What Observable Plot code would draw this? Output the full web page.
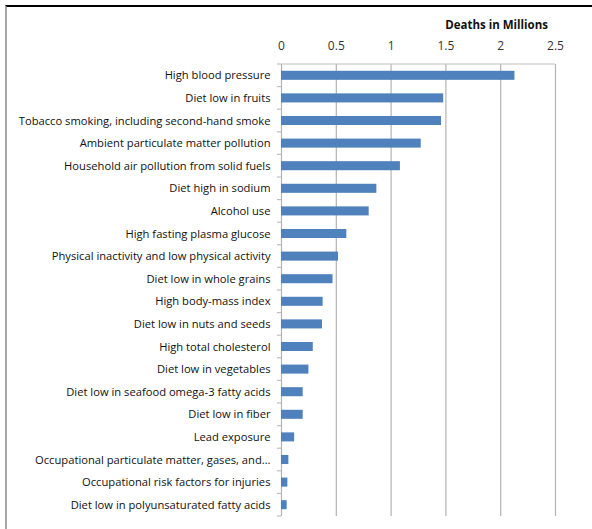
<!DOCTYPE html>
<html>
<head>
<meta charset="utf-8">
<script src="https://cdn.jsdelivr.net/npm/d3@7"></script>
<script src="https://cdn.jsdelivr.net/npm/@observablehq/plot@0.6"></script>
<style>
  html, body { margin: 0; padding: 0; background: #fff; }
  #wrap { position: relative; width: 592px; height: 529px; overflow: hidden; }
  #border { position: absolute; left: 5px; top: 5px; right: -10px; bottom: -10px;
            border-top: 2px solid #000; border-left: 2px solid #a6a6a6; pointer-events: none; }
  #title { position: absolute; right: 44px; top: 17px; font: bold 11.5px "Open Sans", sans-serif; color: #111; }
  #chart svg { display: block; }
</style>
</head>
<body>
<div id="wrap"><div id="chart"></div><div id="title"></div><div id="border"></div></div>
<script>
const categories = [
  "High blood pressure",
  "Diet low in fruits",
  "Tobacco smoking, including second-hand smoke",
  "Ambient particulate matter pollution",
  "Household air pollution from solid fuels",
  "Diet high in sodium",
  "Alcohol use",
  "High fasting plasma glucose",
  "Physical inactivity and low physical activity",
  "Diet low in whole grains",
  "High body-mass index",
  "Diet low in nuts and seeds",
  "High total cholesterol",
  "Diet low in vegetables",
  "Diet low in seafood omega-3 fatty acids",
  "Diet low in fiber",
  "Lead exposure",
  "Occupational particulate matter, gases, and…",
  "Occupational risk factors for injuries",
  "Diet low in polyunsaturated fatty acids"
];
const deaths = [2.13, 1.48, 1.46, 1.275, 1.085, 0.87, 0.80, 0.596, 0.52, 0.47,
                0.38, 0.374, 0.29, 0.25, 0.198, 0.198, 0.12, 0.067, 0.058, 0.052];
const xTicks = [0, 0.5, 1, 1.5, 2, 2.5];
const xTickLabels = ["0", "0.5", "1", "1.5", "2", "2.5"];
const axisTitle = "Deaths in Millions";

const data = categories.map((c, i) => ({risk: c, value: deaths[i]}));
document.getElementById("title").textContent = axisTitle;

// custom mark: top axis line and small category-boundary ticks on the left axis
function axisLines(index, scales, values, dimensions) {
  const {x, y} = scales;
  const g = d3.create("svg:g").attr("stroke", "#c0c0c0").attr("stroke-width", 1.2);
  const top = dimensions.marginTop;
  g.append("line").attr("x1", x(0)).attr("x2", x(2.5)).attr("y1", top).attr("y2", top);
  const step = y.step ? y.step() : (dimensions.height - dimensions.marginTop - dimensions.marginBottom) / categories.length;
  const bw = y.bandwidth ? y.bandwidth() : step * 0.4;
  const x0 = x(0);
  const bounds = categories.map(c => y(c) - (step - bw) / 2);
  bounds.push(bounds[bounds.length - 1] + step);
  for (const yy of bounds) {
    g.append("line").attr("x1", x0 - 4).attr("x2", x0).attr("y1", yy).attr("y2", yy);
  }
  return g.node();
}

const chart = Plot.plot({
  width: 592,
  height: 529,
  marginLeft: 281,
  marginRight: 37,
  marginTop: 64,
  marginBottom: 13,
  style: {fontFamily: "Open Sans, sans-serif", fontSize: "11px", color: "#000", background: "#fff"},
  x: {domain: [0, 2.5]},
  y: {domain: categories, paddingInner: 0.6, paddingOuter: 0.3, round: false},
  marks: [
    Plot.ruleX(xTicks, {stroke: "#b3b3b3", strokeWidth: 1.2}),
    axisLines,
    Plot.barX(data, {x: "value", y: "risk", fill: "#4f81bd"}),
    Plot.axisX({
      anchor: "top", ticks: xTicks, tickSize: 0, tickPadding: 15,
      tickFormat: d => xTickLabels[xTicks.indexOf(d)],
      fontSize: 12, fill: "#333", label: null
    }),
    Plot.axisY({anchor: "left", tickSize: 0, tickPadding: 11, fontSize: 11.2, fill: "#111", label: null})
  ]
});
document.getElementById("chart").append(chart);
</script>
</body>
</html>
